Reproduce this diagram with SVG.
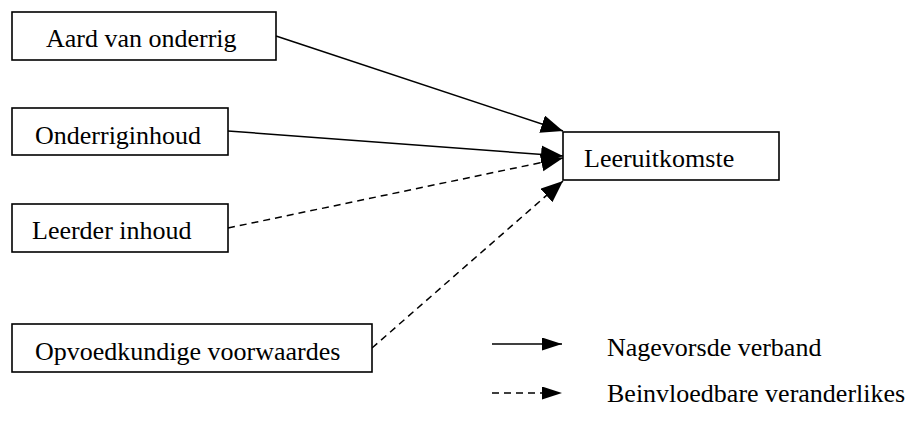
<svg xmlns="http://www.w3.org/2000/svg" width="920" height="435" viewBox="0 0 920 435">
<style>
.box{fill:#fff;stroke:#000;stroke-width:1.6}
.lbl{font-family:"Liberation Serif","Times New Roman",serif;font-size:26px;fill:#000}
.ln{stroke:#000;stroke-width:1.5;fill:none}
.dash{stroke-dasharray:7 5}
</style>
<defs>
<marker id="ah" markerUnits="userSpaceOnUse" markerWidth="24" markerHeight="20" refX="22" refY="9" orient="auto">
<path d="M0,0 L22,9 L0,18 Z" fill="#000"/>
</marker>
<marker id="ahs" markerUnits="userSpaceOnUse" markerWidth="22" markerHeight="16" refX="20" refY="6.5" orient="auto">
<path d="M0,0 L20,6.5 L0,13 Z" fill="#000"/>
</marker>
<clipPath id="c2"><rect x="12" y="108" width="216" height="47"/></clipPath>
<clipPath id="c4"><rect x="12" y="324" width="360" height="48"/></clipPath>
</defs>
<g id="connectors">
<line class="ln" x1="276" y1="36" x2="563" y2="131" marker-end="url(#ah)"/>
<line class="ln" x1="228" y1="131" x2="563" y2="156" marker-end="url(#ah)"/>
<line class="ln dash" x1="228" y1="228" x2="563" y2="158" marker-end="url(#ah)"/>
<line class="ln dash" x1="372" y1="348" x2="563" y2="181" marker-end="url(#ah)"/>
</g>
<g id="n-aard">
<rect class="box" x="12" y="12" width="264" height="48"/>
<text class="lbl" x="46" y="47">Aard van onderrig</text>
</g>
<g id="n-onderriginhoud">
<rect class="box" x="12" y="108" width="216" height="47"/>
<text class="lbl" x="35" y="144" clip-path="url(#c2)">Onderriginhoud</text>
</g>
<g id="n-leerder">
<rect class="box" x="12" y="204" width="216" height="48"/>
<text class="lbl" x="32" y="239">Leerder inhoud</text>
</g>
<g id="n-opvoedkundige">
<rect class="box" x="12" y="324" width="360" height="48"/>
<text class="lbl" x="35" y="360" clip-path="url(#c4)">Opvoedkundige voorwaardes</text>
</g>
<g id="n-leeruitkomste">
<rect class="box" x="563" y="132" width="216" height="48"/>
<text class="lbl" x="584" y="167">Leeruitkomste</text>
</g>
<g id="legend">
<line class="ln" x1="492" y1="344" x2="562" y2="344" marker-end="url(#ahs)"/>
<text class="lbl" x="607" y="356">Nagevorsde verband</text>
<line class="ln dash" x1="492" y1="393" x2="562" y2="393" marker-end="url(#ahs)"/>
<text class="lbl" x="607" y="402">Beinvloedbare veranderlikes</text>
</g>
</svg>
